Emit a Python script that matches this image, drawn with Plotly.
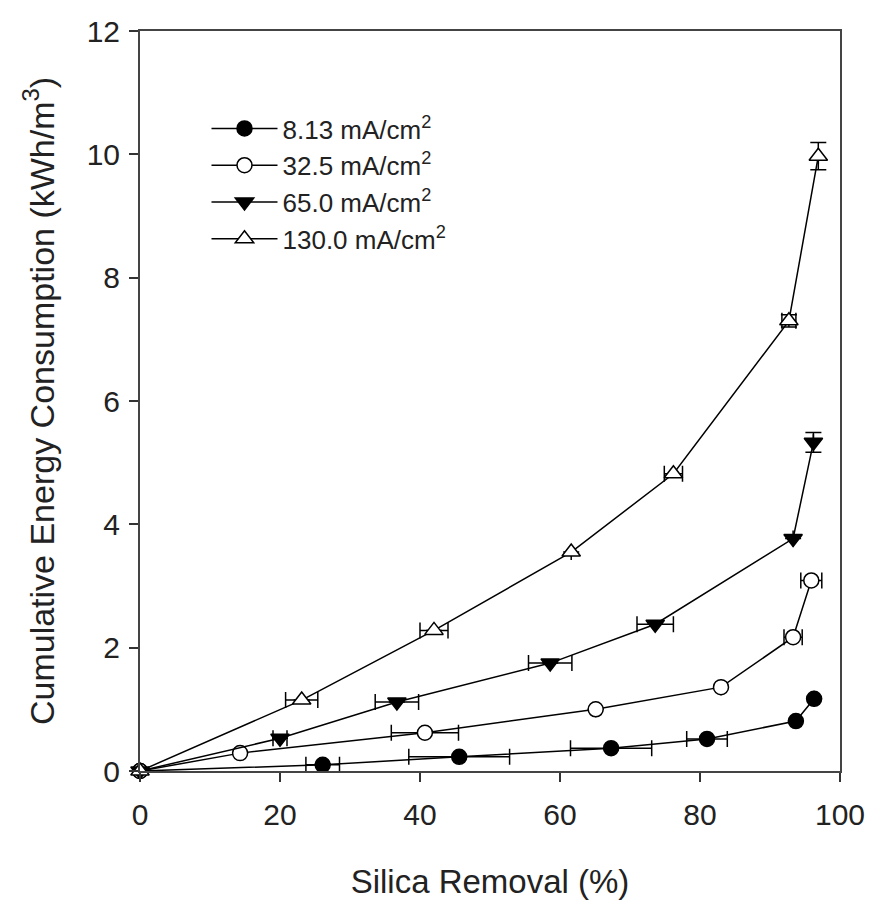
import plotly.graph_objects as go

# Data
names = ["8.13 mA/cm<sup>2</sup>", "32.5 mA/cm<sup>2</sup>", "65.0 mA/cm<sup>2</sup>", "130.0 mA/cm<sup>2</sup>"]

x_813 = [0, 26.1, 45.6, 67.3, 81.0, 93.7, 96.3]
y_813 = [0, 0.10, 0.23, 0.37, 0.52, 0.81, 1.17]
xe_813 = [0, 2.4, 7.2, 5.8, 2.9, 0, 0]
ye_813 = [0, 0, 0, 0, 0, 0, 0]

x_325 = [0, 14.3, 40.7, 65.1, 83.0, 93.3, 95.9]
y_325 = [0, 0.29, 0.62, 1.00, 1.36, 2.17, 3.09]
xe_325 = [0, 0, 4.8, 0, 0, 1.3, 1.5]
ye_325 = [0, 0, 0, 0, 0, 0, 0]

x_650 = [0, 20.0, 36.7, 58.6, 73.6, 93.3, 96.2]
y_650 = [0, 0.53, 1.12, 1.75, 2.38, 3.77, 5.33]
xe_650 = [0, 1.0, 3.1, 3.1, 2.6, 0, 0]
ye_650 = [0, 0, 0, 0, 0, 0, 0.16]

x_1300 = [0, 23.1, 42.0, 61.6, 76.2, 92.7, 96.9]
y_1300 = [0, 1.15, 2.28, 3.55, 4.82, 7.30, 9.97]
xe_1300 = [0, 2.3, 2.0, 0, 1.3, 1.0, 0]
ye_1300 = [0, 0, 0, 0, 0, 0.10, 0.22]

x_ticks = [0, 20, 40, 60, 80, 100]
y_ticks = [0, 2, 4, 6, 8, 10, 12]

series = [
    (names[0], x_813, y_813, xe_813, ye_813, "circle", "black", 15),
    (names[1], x_325, y_325, xe_325, ye_325, "circle", "white", 15),
    (names[2], x_650, y_650, xe_650, ye_650, "triangle-down", "black", 16),
    (names[3], x_1300, y_1300, xe_1300, ye_1300, "triangle-up", "white", 16),
]

fig = go.Figure()
for name, xs, ys, xe, ye, sym, fill, sz in series:
    fig.add_trace(go.Scatter(
        x=xs, y=ys, name=name, mode="lines+markers", cliponaxis=False,
        line=dict(color="black", width=1.5),
        marker=dict(symbol=sym, size=sz, color=fill, line=dict(color="black", width=1.5)),
        error_x=dict(type="data", array=xe, visible=True, color="black", thickness=1.5, width=8),
        error_y=dict(type="data", array=ye, visible=True, color="black", thickness=1.5, width=8),
    ))

FAM = "Liberation Sans, Arial, sans-serif"
axis_font = dict(family=FAM, size=30, color="#222")
fig.update_layout(
    width=871, height=911,
    margin=dict(l=140, r=31, t=31, b=140),
    paper_bgcolor="white", plot_bgcolor="white",
    font=dict(family=FAM, color="#222"),
    showlegend=True,
    legend=dict(x=0.095, y=0.90, xanchor="left", yanchor="top",
                font=dict(family=FAM, size=26, color="#222"), bgcolor="rgba(0,0,0,0)",
                itemwidth=66, tracegroupgap=0),
    xaxis=dict(range=[0, 100], tickvals=x_ticks, ticks="outside", ticklen=9, tickwidth=1.5,
               tickcolor="#333", showline=True, linecolor="#444", linewidth=2, mirror=True,
               showgrid=False, zeroline=False, tickfont=axis_font, ticklabelstandoff=7,
               automargin=False,
               title=dict(text="Silica Removal (%)", font=dict(family=FAM, size=33, color="#222"), standoff=40)),
    yaxis=dict(range=[0, 12], tickvals=y_ticks, ticks="outside", ticklen=9, tickwidth=1.5,
               tickcolor="#333", showline=True, linecolor="#444", linewidth=2, mirror=True,
               showgrid=False, zeroline=False, tickfont=axis_font, ticklabelstandoff=3,
               automargin=False,
               title=dict(text="Cumulative Energy Consumption (kWh/m<sup>3</sup>)",
                          font=dict(family=FAM, size=34, color="#222"), standoff=22)),
)

fig.write_html("out.html")
